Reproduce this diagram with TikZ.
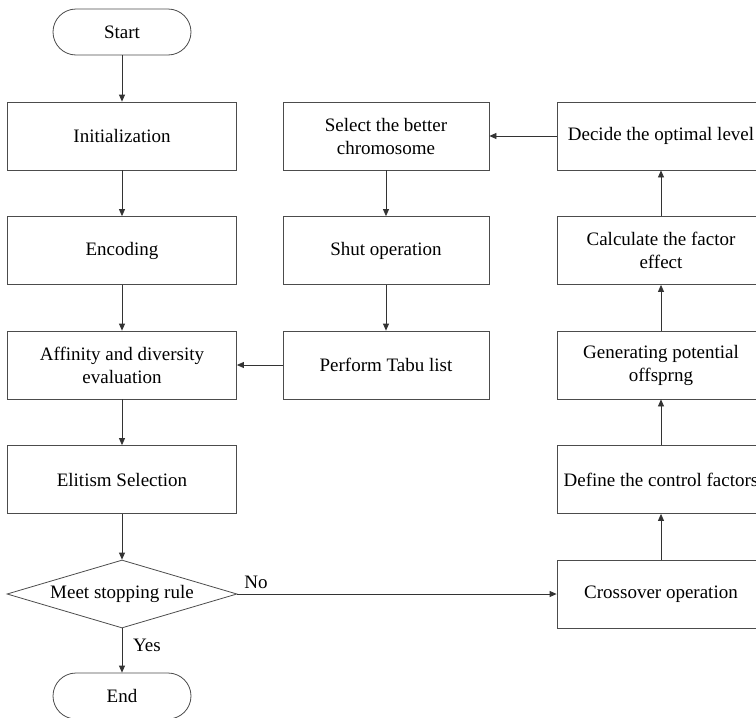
\documentclass[tikz,border=0pt]{standalone}
\usepackage{fontspec}
\setmainfont{Liberation Serif}
\usetikzlibrary{shapes.geometric,arrows.meta}
\begin{document}
\begin{tikzpicture}[x=1pt,y=-1pt,
  every node/.style={font=\fontsize{19}{23}\selectfont, text=black},
  boxL/.style={draw=black!70, line width=0.8pt, rectangle, minimum width=229pt, minimum height=68pt, align=center, inner sep=2pt},
  boxM/.style={boxL, minimum width=206pt},
  boxR/.style={boxL, minimum width=208pt},
  term/.style={draw=black!70, line width=0.8pt, rectangle, rounded corners=23pt, minimum width=138pt, minimum height=46pt},
  decision/.style={draw=black!70, line width=0.8pt, diamond, aspect=3.38, minimum width=230pt, minimum height=68pt, inner sep=0pt},
  arr/.style={draw=black!80, line width=0.8pt, -{Triangle[length=7pt,width=6pt]}},
  lbl/.style={inner sep=0pt}
]
\useasboundingbox (0,0) rectangle (756,718);
\clip (0,0) rectangle (756,718);
% left column
\node[term] (start) at (122,32) {Start};
\node[boxL] (init) at (122,136) {Initialization};
\node[boxL] (enc) at (122,250.5) {Encoding};
\node[boxL] (aff) at (122,365) {Affinity and diversity\\evaluation};
\node[boxL] (elit) at (122,479.5) {Elitism Selection};
\node[decision] (meet) at (122,594) {Meet stopping rule};
\node[term] (end) at (122,696) {End};
% middle column
\node[boxM] (sel) at (386,136) {Select the better\\chromosome};
\node[boxM] (shut) at (386,250.5) {Shut operation};
\node[boxM] (tabu) at (386,365) {Perform Tabu list};
% right column
\node[boxR] (dec) at (661,136) {Decide the optimal level};
\node[boxR] (calc) at (661,250.5) {Calculate the factor\\effect};
\node[boxR] (gen) at (661,365) {Generating potential\\offsprng};
\node[boxR] (def) at (661,479.5) {Define the control factors};
\node[boxR] (cross) at (661,594.5) {Crossover operation};
% connectors
\draw[arr] (start) -- (init);
\draw[arr] (init) -- (enc);
\draw[arr] (enc) -- (aff);
\draw[arr] (aff) -- (elit);
\draw[arr] (elit) -- (meet);
\draw[arr] (meet) -- (end);
\draw[arr] (meet.east) -- (meet.east -| cross.west);
\draw[arr] (cross) -- (def);
\draw[arr] (def) -- (gen);
\draw[arr] (gen) -- (calc);
\draw[arr] (calc) -- (dec);
\draw[arr] (dec.west) -- (dec.west -| sel.east);
\draw[arr] (sel) -- (shut);
\draw[arr] (shut) -- (tabu);
\draw[arr] (tabu.west) -- (tabu.west -| aff.east);
% labels
\node[lbl] (no) at (256,582) {No};
\node[lbl] (yes) at (147,645) {Yes};
\end{tikzpicture}
\end{document}
